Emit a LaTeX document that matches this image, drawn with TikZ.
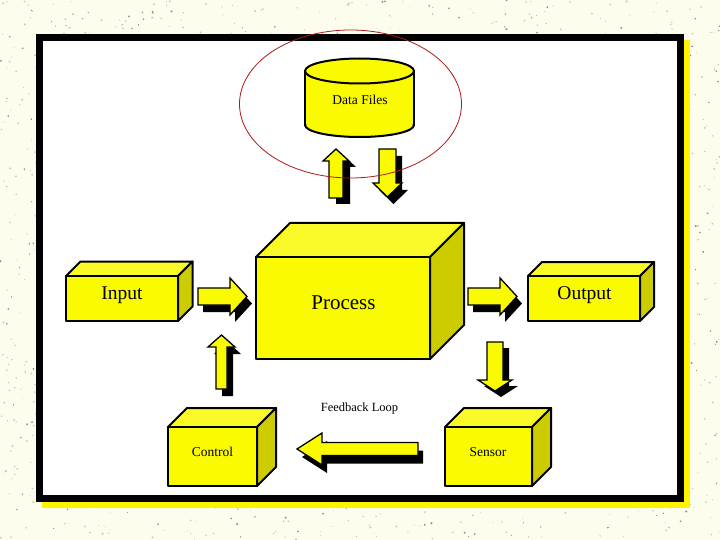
\documentclass[tikz,border=0pt]{standalone}
\usepackage{fontspec}
\setmainfont{Liberation Serif}
\definecolor{bgc}{HTML}{FDFDEE}
\definecolor{dotc}{HTML}{8E8E80}
\definecolor{dotl}{HTML}{C4C4B4}
\definecolor{yfront}{HTML}{FAFA00}
\definecolor{ytop}{HTML}{FAFA28}
\definecolor{yside}{HTML}{CCCC00}
\definecolor{ringc}{HTML}{B01818}
\tikzset{
  boxline/.style={draw=black, line width=2pt, line join=round},
  arrline/.style={draw=black, line width=1.3pt, line join=miter, fill=yfront},
  lbl/.style={inner sep=0pt, anchor=base, text=black},
}
\newcommand{\cubebox}[5]{%
  \filldraw[boxline, fill=ytop] (#1,#2) -- ++(#5,-#5) -- (#3+#5,#2-#5) -- (#3,#2) -- cycle;
  \filldraw[boxline, fill=yside] (#3,#2) -- (#3+#5,#2-#5) -- (#3+#5,#4-#5) -- (#3,#4) -- cycle;
  \filldraw[boxline, fill=yfront] (#1,#2) rectangle (#3,#4);}
\newcommand{\barrow}[3]{%
  \fill[black, shift={(#1,#2)}] #3;
  \filldraw[arrline] #3;}
\begin{document}
\begin{tikzpicture}[x=1pt,y=-1pt]
\useasboundingbox (0,0) rectangle (720,540);
\fill[bgc] (0,0) rectangle (720,540);
\pgfmathsetseed{11}
\foreach \i in {1,...,1400}{\fill[dotl] (rnd*720,rnd*540) circle ({0.4+rnd*0.7});}
\foreach \i in {1,...,700}{\fill[dotc] (rnd*720,rnd*540) circle ({0.35+rnd*0.75});}
% frame
\fill[yellow] (42,40) rectangle (690,508);
\fill[black] (36,34) rectangle (684,502);
\fill[white] (43,41) rectangle (677,495);
% data files cylinder
\fill[yfront] (305,70) rectangle (414,125);
\fill[yfront] (359.5,125) ellipse [x radius=54.5, y radius=12];
\begin{scope}
  \clip (295,125) rectangle (425,145);
  \draw[boxline] (359.5,125) ellipse [x radius=54.5, y radius=12];
\end{scope}
\draw[boxline] (305,70) -- (305,125) (414,70) -- (414,125);
\filldraw[boxline, fill=yfront] (359.5,71) ellipse [x radius=54.5, y radius=12.5];
\node[lbl, font=\fontsize{13.5}{15}\selectfont] (datafiles) at (360,105) {Data Files};
% boxes
\cubebox{66}{276}{178}{321}{14.5}
\node[lbl, font=\fontsize{19.5}{22}\selectfont] (input) at (122,299) {Input};
\cubebox{256}{257}{430}{359}{34}
\node[lbl, font=\fontsize{21}{24}\selectfont] (process) at (343.5,309) {Process};
\cubebox{528}{276}{640}{321}{14}
\node[lbl, font=\fontsize{19.5}{22}\selectfont] (output) at (584.5,299) {Output};
\cubebox{168}{427}{257}{486}{19}
\node[lbl, font=\fontsize{13.5}{15}\selectfont] (control) at (212.5,456) {Control};
\cubebox{445}{427}{532}{486}{19}
\node[lbl, font=\fontsize{13.5}{15}\selectfont] (sensor) at (488,456) {Sensor};
\node[lbl, font=\fontsize{12.5}{14}\selectfont] (loop) at (359.5,411) {Feedback Loop};
% block arrows
\barrow{7}{6}{(336,149) -- (349,161) -- (343,161) -- (343,198) -- (329,198) -- (329,161) -- (323,161) -- cycle}
\barrow{6}{7}{(379,149) -- (396,149) -- (396,183) -- (402,183) -- (387.5,197) -- (373,183) -- (379,183) -- cycle}
\barrow{5}{7}{(198,288) -- (230,288) -- (230,278) -- (247,296.5) -- (230,315) -- (230,305) -- (198,305) -- cycle}
\barrow{5}{7}{(468,288) -- (500,288) -- (500,278) -- (517,296.5) -- (500,315) -- (500,305) -- (468,305) -- cycle}
\barrow{6}{7}{(221.5,335) -- (235,347) -- (227,347) -- (227,389) -- (216,389) -- (216,347) -- (208,347) -- cycle}
\barrow{6}{6}{(487,342) -- (503,342) -- (503,380) -- (512,380) -- (495,391) -- (478,380) -- (487,380) -- cycle}
\barrow{5}{8}{(297,449) -- (322,433) -- (322,442.5) -- (418,442.5) -- (418,455.5) -- (322,455.5) -- (322,465) -- cycle}
% red ring
\draw[ringc, line width=0.8pt] (350.5,104) ellipse [x radius=111, y radius=74];
\end{tikzpicture}
\end{document}
